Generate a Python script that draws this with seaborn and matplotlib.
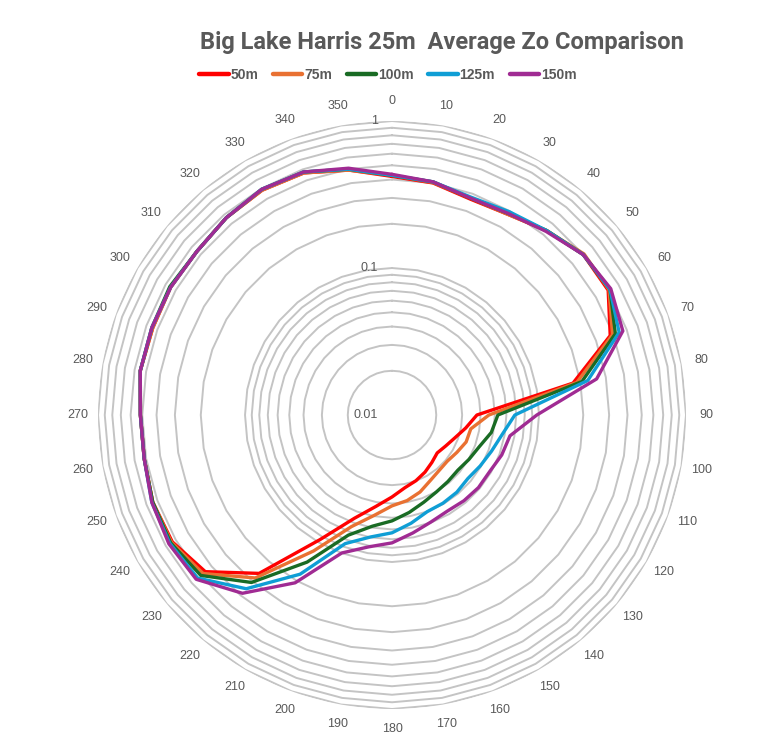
import numpy as np
import pandas as pd
import matplotlib
matplotlib.use("Agg")
import matplotlib.pyplot as plt
import matplotlib.transforms as mtransforms
from matplotlib.lines import Line2D
import seaborn as sns

# Wind direction sectors (degrees)
directions = list(range(0, 360, 10))

# Average roughness length Zo per sector for each fetch distance
zo_50m = [0.420, 0.401, 0.365, 0.377, 0.434, 0.499, 0.499, 0.380, 0.178, 0.0378,
          0.0323, 0.0285, 0.0264, 0.0252, 0.0264, 0.0281, 0.0299, 0.0318, 0.0361, 0.0428,
          0.0559, 0.0951, 0.255, 0.455, 0.532, 0.540, 0.515, 0.515, 0.548, 0.540,
          0.548, 0.540, 0.566, 0.584, 0.566, 0.492]
zo_75m = [0.427, 0.404, 0.371, 0.377, 0.434, 0.507, 0.507, 0.395, 0.189, 0.0456,
          0.0350, 0.0344, 0.0323, 0.0309, 0.0313, 0.0329, 0.0361, 0.0390, 0.0415, 0.0493,
          0.0643, 0.117, 0.280, 0.476, 0.540, 0.540, 0.515, 0.515, 0.548, 0.540,
          0.548, 0.540, 0.566, 0.584, 0.566, 0.492]
zo_100m = [0.427, 0.408, 0.371, 0.383, 0.434, 0.499, 0.515, 0.414, 0.205, 0.0525,
           0.0485, 0.0428, 0.0402, 0.0384, 0.0390, 0.0402, 0.0428, 0.0471, 0.0525, 0.0586,
           0.0741, 0.143, 0.307, 0.499, 0.548, 0.540, 0.515, 0.515, 0.548, 0.548,
           0.557, 0.540, 0.566, 0.593, 0.575, 0.499]
zo_125m = [0.427, 0.408, 0.377, 0.395, 0.434, 0.499, 0.515, 0.441, 0.225, 0.0685,
           0.0577, 0.0525, 0.0493, 0.0471, 0.0485, 0.0493, 0.0501, 0.0559, 0.0633, 0.0696,
           0.0853, 0.178, 0.349, 0.532, 0.557, 0.548, 0.515, 0.515, 0.548, 0.548,
           0.548, 0.540, 0.566, 0.593, 0.575, 0.499]
zo_150m = [0.434, 0.408, 0.371, 0.383, 0.427, 0.499, 0.523, 0.469, 0.259, 0.0966,
           0.0653, 0.0623, 0.0586, 0.0586, 0.0577, 0.0568, 0.0595, 0.0653, 0.0741, 0.0814,
           0.0997, 0.208, 0.383, 0.548, 0.566, 0.548, 0.515, 0.515, 0.548, 0.548,
           0.548, 0.540, 0.566, 0.593, 0.575, 0.507]

heights = ["50m", "75m", "100m", "125m", "150m"]
series = [zo_50m, zo_75m, zo_100m, zo_125m, zo_150m]
colors = ["#FF0000", "#E97132", "#196B24", "#0F9ED5", "#A02B93"]

# Log-scale rings (major and minor) and the labelled decades
ring_values = [0.02, 0.03, 0.04, 0.05, 0.06, 0.07, 0.08, 0.09,
               0.1, 0.2, 0.3, 0.4, 0.5, 0.6, 0.7, 0.8, 0.9, 1.0]
decade_values = [0.01, 0.1, 1]
decade_labels = ["0.01", "0.1", "1"]

title = "Big Lake Harris 25m  Average Zo Comparison"

sns.set_style("white")
plt.rcParams["font.family"] = ["Liberation Sans", "DejaVu Sans"]
text_grey = "#595959"

# Long-form table; each polygon is closed by repeating its first sector at 360°
rows = []
for name, vals in zip(heights, series):
    for d, v in zip(directions + [360], vals + [vals[0]]):
        rows.append({"theta": np.deg2rad(d), "zo": v, "height": name})
df = pd.DataFrame(rows)

fig = plt.figure(figsize=(7.67, 7.38), dpi=100)
ax = fig.add_axes([0.1278, 0.0393, 0.7666, 0.7967], projection="polar")
ax.set_theta_zero_location("N")
ax.set_theta_direction(-1)
ax.set_rscale("log")

sns.lineplot(data=df, x="theta", y="zo", hue="height", hue_order=heights,
             palette=colors, sort=False, estimator=None, linewidth=2.4,
             legend=False, ax=ax, zorder=3)

# Polygonal rings, one straight segment per sector
ring_theta = np.deg2rad(directions + [360])
for v in ring_values:
    ax.plot(ring_theta, [v] * len(ring_theta), color="#c4c4c4", lw=1.4,
            zorder=1, solid_joinstyle="miter")

ax.set_rlim(0.01, 1)
ax.grid(False)
ax.spines["polar"].set_visible(False)
ax.set_xlabel("")
ax.set_ylabel("")
ax.set_yticks([])
ax.yaxis.set_minor_locator(matplotlib.ticker.NullLocator())
ax.set_xticks(np.deg2rad(directions))
ax.set_xticklabels([str(d) for d in directions], color=text_grey, fontsize=9)
ax.tick_params(axis="x", pad=4)

shift = mtransforms.offset_copy(ax.transData, fig=fig, x=-14, y=0, units="dots")
for v, lab in zip(decade_values, decade_labels):
    ax.text(0, v, lab, transform=shift, ha="right", va="center",
            color=text_grey, fontsize=9, zorder=4)

fig.text(441.5 / 767, 1 - 43 / 738, title, ha="center", va="center",
         fontsize=17, fontweight="bold", color=text_grey,
         family=["Roboto", "DejaVu Sans"])

handles = [Line2D([], [], color=c, lw=3.2) for c in colors]
fig.legend(handles, heights, loc="center", bbox_to_anchor=(388 / 767, 1 - 75 / 738),
           ncol=5, frameon=False, handlelength=2.1, handletextpad=0.15,
           columnspacing=1.05, prop={"weight": "bold", "size": 10},
           labelcolor=text_grey)

fig.savefig("out.png", dpi=100)
